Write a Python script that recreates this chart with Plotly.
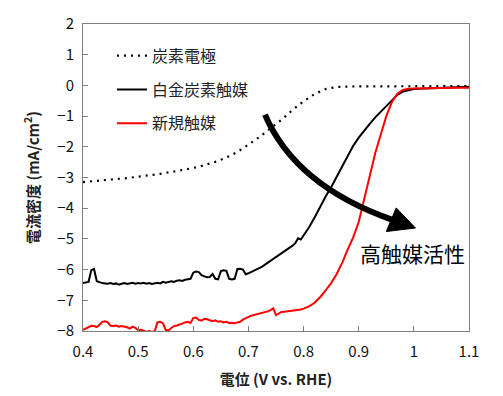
import plotly.graph_objects as go

# ---- data ----
x_fine = [round(0.40 + 0.005 * i, 3) for i in range(81)]  # 0.400 .. 0.800
x_tail = [0.81, 0.82, 0.83, 0.84, 0.85, 0.86, 0.87, 0.88, 0.89, 0.90, 0.91, 0.92,
          0.93, 0.94, 0.95, 0.96, 0.97, 0.98, 0.99, 1.00, 1.02, 1.04, 1.06, 1.08, 1.10]

pt_fine = [-6.44, -6.42, -6.40, -6.02, -5.98, -6.38, -6.42, -6.44, -6.45, -6.46,
           -6.44, -6.47, -6.45, -6.49, -6.46, -6.44, -6.47, -6.45, -6.43, -6.46,
           -6.44, -6.45, -6.43, -6.46, -6.44, -6.47, -6.45, -6.43, -6.45, -6.40,
           -6.43, -6.41, -6.38, -6.40, -6.36, -6.35, -6.37, -6.33, -6.32, -6.30,
           -6.10, -6.06, -6.08, -6.18, -6.22, -6.25, -6.24, -6.14, -6.30, -6.32,
           -6.05, -6.02, -6.04, -6.30, -6.32, -6.30, -5.98, -5.97, -6.00, -6.15,
           -6.12, -6.08, -6.04, -6.00, -5.95, -5.90, -5.84, -5.78, -5.72, -5.66,
           -5.58, -5.52, -5.46, -5.40, -5.34, -5.28, -5.22, -5.14, -4.98, -5.02,
           -4.90]
pt_tail = [-4.62, -4.30, -3.95, -3.62, -3.32, -2.97, -2.62, -2.28, -1.97, -1.70,
           -1.46, -1.25, -1.04, -0.86, -0.66, -0.48, -0.31, -0.20, -0.15, -0.12,
           -0.10, -0.08, -0.07, -0.05, -0.04]

new_fine = [-7.96, -7.92, -7.88, -7.83, -7.84, -7.87, -7.80, -7.70, -7.68, -7.72,
            -7.83, -7.84, -7.82, -7.86, -7.84, -7.85, -7.88, -7.92, -7.86, -7.90,
            -7.97, -7.96, -8.00, -8.02, -8.00, -8.03, -8.01, -7.72, -7.70, -7.75,
            -7.96, -7.98, -7.90, -7.84, -7.82, -7.80, -7.76, -7.72, -7.70, -7.74,
            -7.58, -7.56, -7.64, -7.66, -7.60, -7.62, -7.66, -7.68, -7.65, -7.70,
            -7.68, -7.72, -7.70, -7.74, -7.73, -7.75, -7.72, -7.70, -7.63, -7.58,
            -7.53, -7.50, -7.48, -7.46, -7.43, -7.40, -7.38, -7.36, -7.32, -7.26,
            -7.48, -7.42, -7.38, -7.37, -7.36, -7.35, -7.34, -7.33, -7.32, -7.30,
            -7.27]
new_tail = [-7.20, -7.08, -6.90, -6.68, -6.44, -6.14, -5.78, -5.35, -4.95, -4.45,
            -3.70, -2.95, -2.20, -1.60, -1.00, -0.55, -0.27, -0.15, -0.11, -0.10,
            -0.09, -0.09, -0.09, -0.08, -0.08]

carbon_x = [0.40, 0.42, 0.44, 0.46, 0.48, 0.50, 0.52, 0.54, 0.56, 0.58, 0.60, 0.62,
            0.64, 0.66, 0.68, 0.70, 0.72, 0.74, 0.76, 0.78, 0.80, 0.82, 0.84, 0.86,
            0.88, 0.90, 0.95, 1.00, 1.05, 1.10]
carbon_y = [-3.15, -3.11, -3.08, -3.05, -3.02, -2.98, -2.93, -2.88, -2.82, -2.76,
            -2.69, -2.60, -2.49, -2.35, -2.17, -1.93, -1.68, -1.40, -1.12, -0.80,
            -0.52, -0.28, -0.12, -0.05, -0.03, -0.03, -0.03, -0.02, -0.02, -0.02]

names = ["炭素電極", "白金炭素触媒", "新規触媒"]
x_ticks = [0.4, 0.5, 0.6, 0.7, 0.8, 0.9, 1.0, 1.1]
x_ticktext = ["0.4", "0.5", "0.6", "0.7", "0.8", "0.9", "1", "1.1"]
y_ticks = [2, 1, 0, -1, -2, -3, -4, -5, -6, -7, -8]

FONT = "Noto Sans CJK JP, Noto Sans, sans-serif"

fig = go.Figure()
fig.add_trace(go.Scatter(x=carbon_x, y=carbon_y, mode="lines", name=names[0],
                         legendgroup="a",
                         line=dict(color="black", width=2.2, dash="2px,5px")))
fig.add_trace(go.Scatter(x=x_fine + x_tail, y=pt_fine + pt_tail, mode="lines",
                         name=names[1], legendgroup="b",
                         line=dict(color="black", width=2)))
fig.add_trace(go.Scatter(x=x_fine + x_tail, y=new_fine + new_tail, mode="lines",
                         name=names[2], legendgroup="c",
                         line=dict(color="#ff0000", width=2)))

# curved arrow (annotation)
fig.add_shape(type="path", xref="x", yref="y",
              path="M 0.730,-0.95 Q 0.785,-3.26 0.960,-4.37",
              line=dict(color="black", width=6))
fig.add_shape(type="path", xref="x", yref="y",
              path="M 1.003,-4.645 L 0.968,-3.99 L 0.950,-4.76 Z",
              fillcolor="black", line=dict(color="black", width=1))
fig.add_annotation(x=0.997, y=-5.46, xref="x", yref="y", text="高触媒活性",
                   showarrow=False, font=dict(family=FONT, size=21, color="black"))

axis_common = dict(showline=True, linecolor="#7f7f7f", linewidth=1, mirror=True,
                   ticks="inside", ticklen=5, tickcolor="#7f7f7f", showgrid=False,
                   zeroline=False, tickfont=dict(family=FONT, size=15, color="#111"))

fig.update_xaxes(range=[0.4, 1.1], tickvals=x_ticks, ticktext=x_ticktext,
                 ticklabelstandoff=7,
                 title=dict(text="<b>電位 (V vs. RHE)</b>", standoff=14,
                            font=dict(family=FONT, size=15, color="#222")),
                 **axis_common)
fig.update_yaxes(range=[-8, 2], tickvals=y_ticks, ticklabelstandoff=5,
                 title=dict(text="<b>電流密度 (mA/cm<sup>2</sup>)</b>", standoff=14,
                            font=dict(family=FONT, size=15, color="#222")),
                 **axis_common)

# page body adds an 8px margin: figure is 495x388 so plot sits where the reference has it
fig.update_layout(
    width=495, height=388,
    margin=dict(l=75, r=34, t=16, b=65, autoexpand=False),
    paper_bgcolor="white", plot_bgcolor="white",
    font=dict(family=FONT, color="#222"),
    showlegend=True,
    legend=dict(x=0.075, y=0.952, xanchor="left", yanchor="top",
                bgcolor="rgba(0,0,0,0)", tracegroupgap=10,
                font=dict(family=FONT, size=16, color="#222")),
)

fig.write_html("out.html")
